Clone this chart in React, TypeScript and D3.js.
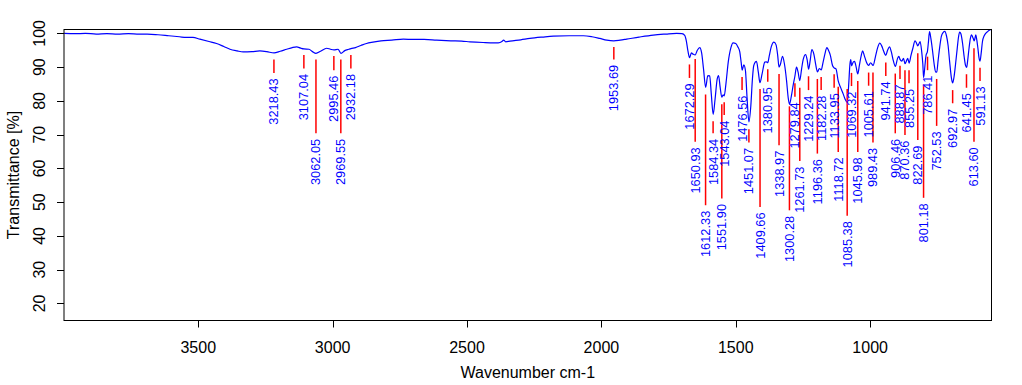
import { useEffect, useRef } from "react";
import * as d3 from "d3";

const xTicks = [3500, 3000, 2500, 2000, 1500, 1000];
const yTicks = [20, 30, 40, 50, 60, 70, 80, 90, 100];

// IR spectrum: [wavenumber, transmittance %]
const spectrum: [number, number][] = [
  [3999, 100.0], [3960, 99.9], [3920, 100.0], [3880, 99.8], [3840, 99.9], [3800, 99.8],
  [3760, 99.9], [3720, 99.8], [3690, 99.8], [3650, 99.6], [3610, 99.3], [3570, 99.0],
  [3545, 98.8], [3520, 98.8], [3494, 98.3], [3460, 97.6], [3432, 97.0], [3405, 96.1],
  [3382, 95.3], [3355, 94.8], [3333, 94.5], [3300, 94.6], [3271, 94.8], [3245, 94.6],
  [3218, 94.2], [3195, 94.7], [3171, 95.3], [3150, 95.8], [3134, 96.0], [3118, 95.6],
  [3107, 95.4], [3088, 95.3], [3075, 94.6], [3062, 94.1], [3045, 94.7], [3022, 95.6],
  [3008, 95.3], [2995, 95.1], [2980, 95.3], [2969, 94.1], [2955, 94.9], [2940, 95.3],
  [2932, 95.5], [2915, 95.8], [2895, 96.4], [2874, 97.0], [2850, 97.4], [2820, 97.8],
  [2780, 98.0], [2737, 98.3], [2700, 98.2], [2660, 98.2], [2613, 98.0], [2560, 97.8],
  [2520, 97.7], [2489, 97.5], [2440, 97.3], [2400, 97.2], [2384, 97.2], [2370, 97.6],
  [2364, 98.0], [2356, 97.5], [2340, 97.7], [2300, 98.1], [2266, 98.5], [2220, 98.9],
  [2179, 99.2], [2120, 99.3], [2067, 99.3], [2035, 99.0], [2006, 98.5], [1980, 98.0],
  [1954, 97.8], [1930, 98.0], [1906, 98.3], [1860, 98.9], [1807, 99.5], [1760, 99.8],
  [1720, 100.0], [1700, 99.9], [1690, 99.4], [1684, 97.8], [1678, 94.8], [1672, 92.8],
  [1665, 94.2], [1658, 93.8], [1651, 93.6], [1643, 95.0], [1634, 95.8], [1627, 94.2],
  [1620, 89.5], [1612, 84.0], [1604, 87.5], [1597, 87.4], [1591, 82.0], [1584, 76.0],
  [1577, 80.5], [1569, 86.5], [1564, 87.5], [1558, 84.0], [1552, 81.1], [1547, 81.8],
  [1543, 81.5], [1536, 85.5], [1528, 91.5], [1518, 95.8], [1510, 97.2], [1500, 97.0],
  [1492, 96.0], [1485, 94.5], [1480, 91.5], [1476, 89.1], [1470, 90.7], [1464, 89.0],
  [1458, 81.0], [1451, 73.8], [1444, 78.5], [1438, 86.5], [1433, 90.5], [1423, 91.7],
  [1416, 88.5], [1410, 85.4], [1402, 88.0], [1392, 91.5], [1386, 91.6], [1381, 91.3],
  [1375, 93.5], [1368, 96.0], [1358, 97.4], [1350, 96.6], [1344, 93.5], [1339, 90.0],
  [1334, 90.8], [1326, 93.2], [1319, 91.0], [1311, 86.0], [1305, 81.0], [1300, 79.0],
  [1293, 81.5], [1286, 84.8], [1280, 87.3], [1274, 90.0], [1268, 88.5], [1262, 86.0],
  [1255, 89.5], [1249, 92.3], [1240, 93.7], [1234, 92.0], [1229, 89.4], [1223, 92.0],
  [1217, 95.2], [1209, 93.7], [1203, 91.0], [1196, 88.6], [1189, 89.6], [1182, 89.2],
  [1175, 91.5], [1168, 94.0], [1161, 95.8], [1155, 95.0], [1148, 93.5], [1140, 90.5],
  [1134, 89.8], [1127, 89.5], [1119, 86.0], [1110, 84.0], [1100, 82.0], [1093, 80.5],
  [1085, 79.5], [1080, 84.5], [1075, 91.0], [1072, 92.2], [1069, 90.4], [1063, 91.5],
  [1058, 91.7], [1052, 90.0], [1046, 88.0], [1040, 90.5], [1033, 93.5], [1028, 94.8],
  [1022, 93.5], [1014, 91.5], [1006, 90.5], [998, 91.3], [989, 90.5], [980, 93.2],
  [972, 95.8], [964, 97.1], [957, 96.3], [950, 94.8], [942, 93.5], [935, 95.0],
  [928, 96.0], [921, 94.5], [914, 92.0], [906, 90.2], [898, 92.6], [893, 93.2],
  [889, 92.3], [882, 91.8], [876, 92.6], [870, 91.0], [864, 92.0], [860, 92.6],
  [855, 91.2], [848, 93.5], [841, 95.6], [833, 97.8], [827, 97.0], [823, 96.3],
  [818, 97.0], [814, 97.6], [808, 94.5], [804, 91.0], [801, 86.9], [796, 90.5],
  [792, 93.5], [787, 94.6], [783, 97.5], [779, 100.5], [774, 98.5], [768, 95.0],
  [762, 91.0], [756, 88.5], [752, 88.6], [747, 92.0], [741, 96.0], [735, 99.1],
  [728, 100.3], [722, 100.6], [716, 99.3], [710, 96.5], [704, 91.5], [697, 86.5],
  [693, 85.3], [688, 87.0], [682, 91.0], [676, 95.5], [671, 99.0], [667, 100.4],
  [662, 99.8], [656, 97.0], [650, 93.0], [645, 90.5], [641, 89.9], [637, 92.0],
  [632, 95.6], [627, 98.5], [623, 99.6], [619, 99.0], [615, 98.2], [613, 97.8],
  [610, 98.5], [607, 99.6], [603, 98.0], [599, 95.6], [595, 92.8], [591, 91.8],
  [587, 94.0], [582, 97.6], [576, 99.2], [570, 100.0], [562, 100.6], [555, 101.0],
  [549, 101.2],
];

// picked peaks
const peakWn = [
  3218.43, 3107.04, 3062.05, 2995.46, 2969.55, 2932.18, 1953.69, 1672.29, 1650.93,
  1612.33, 1584.34, 1551.9, 1543.04, 1476.56, 1451.07, 1409.66, 1380.95, 1338.97,
  1300.28, 1279.84, 1261.73, 1229.24, 1196.36, 1182.28, 1133.95, 1118.72, 1085.38,
  1069.32, 1045.98, 1005.61, 989.43, 941.74, 906.46, 888.87, 870.36, 855.25, 822.69,
  801.18, 786.41, 752.53, 692.97, 641.45, 613.6, 591.13,
];
// marker start (near the band) and end (label level), in % transmittance
const peakTop = [
  92.3, 93.6, 92.3, 93.3, 92.3, 93.6, 96.0, 90.8, 92.4,
  81.9, 74.0, 79.0, 79.6, 87.1, 71.6, 83.5, 89.4, 88.0,
  78.4, 85.2, 83.9, 87.3, 86.5, 87.1, 87.9, 84.2, 83.5,
  88.3, 85.9, 88.4, 88.4, 91.4, 88.1, 90.4, 89.1, 89.1, 94.1,
  84.9, 93.1, 86.5, 83.2, 87.9, 95.6, 89.8,
];
const peakBottom = [
  88.3, 89.6, 70.4, 89.1, 70.4, 89.6, 92.3, 86.8, 67.9,
  49.1, 70.4, 51.1, 75.8, 83.2, 67.7, 48.6, 85.7, 66.9,
  47.6, 81.2, 62.2, 83.2, 64.4, 83.2, 83.9, 64.9, 46.0,
  84.4, 64.9, 84.5, 67.7, 87.4, 70.4, 86.5, 69.9, 85.2, 68.4,
  51.3, 89.1, 72.6, 79.3, 83.9, 67.9, 85.9,
];

const W = 1022;
const H = 385;
const left = 64;
const right = 991.5;
const top = 29.5;
const bottom = 320.5;
const font = "'Liberation Sans', Arial, sans-serif";

const App = () => {
  const svgRef = useRef(null);

  useEffect(() => {
    const svg = d3.select(svgRef.current);
    svg.selectAll("*").remove();

    const x = d3.scaleLinear().domain([3999.6, 548.4]).range([left, right]);
    const y = d3.scaleLinear().domain([14.96, 101.15]).range([bottom, top]);

    // spectrum
    const line = d3
      .line<[number, number]>()
      .x((d) => x(d[0]))
      .y((d) => y(d[1]))
      .curve(d3.curveMonotoneX);

    svg
      .append("path")
      .datum(spectrum)
      .attr("d", line)
      .attr("fill", "none")
      .attr("stroke", "#0000ff")
      .attr("stroke-width", 1.2);

    // peak markers
    const peaks = peakWn.map((w, i) => ({ w, t0: peakTop[i], t1: peakBottom[i] }));

    svg
      .append("g")
      .selectAll("line")
      .data(peaks)
      .enter()
      .append("line")
      .attr("x1", (d) => x(d.w))
      .attr("x2", (d) => x(d.w))
      .attr("y1", (d) => y(d.t0))
      .attr("y2", (d) => y(d.t1))
      .attr("stroke", "#ff0000")
      .attr("stroke-width", 1.5);

    svg
      .append("g")
      .selectAll("text")
      .data(peaks)
      .enter()
      .append("text")
      .attr("transform", (d) => `translate(${x(d.w)},${y(d.t1) + 5.5}) rotate(-90)`)
      .attr("text-anchor", "end")
      .attr("dominant-baseline", "central")
      .attr("font-family", font)
      .attr("font-size", 12.8)
      .attr("fill", "#0000ff")
      .text((d) => d.w.toFixed(2));

    // box
    svg
      .append("rect")
      .attr("x", left)
      .attr("y", top)
      .attr("width", right - left)
      .attr("height", bottom - top)
      .attr("fill", "none")
      .attr("stroke", "#000")
      .attr("stroke-width", 1);

    // X axis
    const gx = svg.append("g");
    gx.selectAll("line")
      .data(xTicks)
      .enter()
      .append("line")
      .attr("x1", (d) => Math.round(x(d)) + 0.5)
      .attr("x2", (d) => Math.round(x(d)) + 0.5)
      .attr("y1", bottom)
      .attr("y2", bottom + 7)
      .attr("stroke", "#000");
    gx.selectAll("text")
      .data(xTicks)
      .enter()
      .append("text")
      .attr("x", (d) => x(d))
      .attr("y", 352.5)
      .attr("text-anchor", "middle")
      .attr("font-family", font)
      .attr("font-size", 16)
      .text((d) => d);

    // Y axis
    const gy = svg.append("g");
    gy.selectAll("line")
      .data(yTicks)
      .enter()
      .append("line")
      .attr("x1", left - 7)
      .attr("x2", left)
      .attr("y1", (d) => Math.round(y(d)) + 0.5)
      .attr("y2", (d) => Math.round(y(d)) + 0.5)
      .attr("stroke", "#000");
    gy.selectAll("text")
      .data(yTicks)
      .enter()
      .append("text")
      .attr("transform", (d) => `translate(44.5,${y(d)}) rotate(-90)`)
      .attr("text-anchor", "middle")
      .attr("font-family", font)
      .attr("font-size", 16)
      .text((d) => d);

    // axis titles
    svg
      .append("text")
      .attr("x", (left + right) / 2)
      .attr("y", 378)
      .attr("text-anchor", "middle")
      .attr("font-family", font)
      .attr("font-size", 16)
      .text("Wavenumber cm-1");

    svg
      .append("text")
      .attr("transform", `translate(19,${(top + bottom) / 2}) rotate(-90)`)
      .attr("text-anchor", "middle")
      .attr("font-family", font)
      .attr("font-size", 16)
      .text("Transmittance [%]");
  }, []);

  return (
    <svg
      ref={svgRef}
      width={W}
      height={H}
      style={{ position: "absolute", left: 0, top: 0, background: "#fff" }}
    ></svg>
  );
};

export default App;
